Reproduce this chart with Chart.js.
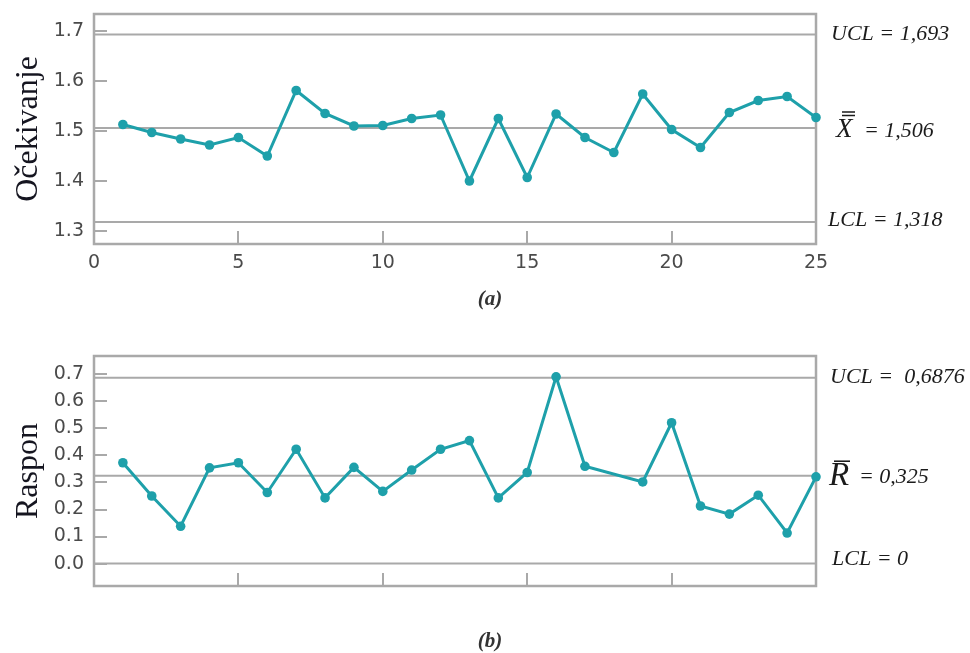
<!DOCTYPE html>
<html><head><meta charset="utf-8">
<script src="https://cdn.jsdelivr.net/npm/chart.js@4.4.1/dist/chart.umd.min.js"></script>
<style>
html,body{margin:0;padding:0;background:#fff;}
#wrap{position:relative;width:970px;height:653px;overflow:hidden;background:#fff;}
canvas{position:absolute;left:0;}
</style></head><body>
<div id="wrap">
<canvas id="c1" width="970" height="326" style="top:0;width:970px;height:326px"></canvas>
<canvas id="c2" width="970" height="327" style="top:326px;width:970px;height:327px"></canvas>
</div>
<script>
// ---- data ----
const samples = [1,2,3,4,5,6,7,8,9,10,11,12,13,14,15,16,17,18,19,20,21,22,23,24,25];
const meanValues = [1.513,1.497,1.484,1.472,1.487,1.450,1.581,1.535,1.510,1.511,1.525,1.532,1.400,1.525,1.407,1.534,1.487,1.457,1.574,1.503,1.467,1.537,1.561,1.569,1.527];
const rangeSamples = [1,2,3,4,5,6,7,8,9,10,11,12,13,14,15,16,17,19,20,21,22,23,24,25];
const rangeValues = [0.373,0.250,0.138,0.354,0.373,0.263,0.423,0.243,0.356,0.267,0.346,0.423,0.455,0.243,0.337,0.691,0.360,0.302,0.521,0.213,0.183,0.253,0.113,0.321];
const meanLimits = {ucl:1.693, cl:1.506, lcl:1.318};
const rangeLimits = {ucl:0.6876, cl:0.325, lcl:0};
const xTicks = [0,5,10,15,20,25];
const meanTicks = [1.3,1.4,1.5,1.6,1.7];
const rangeTicks = [0.0,0.1,0.2,0.3,0.4,0.5,0.6,0.7];
const labelsMean = {ucl:'UCL = 1,693', cl:'= 1,506', lcl:'LCL = 1,318'};
const labelsRange = {ucl:'UCL =  0,6876', cl:'= 0,325', lcl:'LCL = 0'};

const TEAL = '#1ea0aa';
const GRAY = '#a9a9a9';
const TICKCOL = '#4a4a4a';
const SERIF = "'Liberation Serif', 'DejaVu Serif', serif";

function limitLine(v){ return [{x:xTicks[0], y:v},{x:xTicks[xTicks.length-1], y:v}]; }

function framePlugin(){
  return {id:'frame', beforeDatasetsDraw(chart){
    const a = chart.chartArea, c = chart.ctx;
    c.save(); c.strokeStyle = GRAY; c.lineWidth = 2.5;
    c.strokeRect(a.left, a.top, a.right-a.left, a.bottom-a.top);
    c.restore();
  }};
}

function labelPlugin(kind){
  return {id:'rlabels', afterDraw(chart){
    const c = chart.ctx, ys = chart.scales.y;
    c.save(); c.fillStyle = '#1b1b1b'; c.strokeStyle = '#1b1b1b';
    c.textAlign = 'left';
    if (kind === 'mean'){
      const lim = meanLimits, L = labelsMean;
      c.font = 'italic 22px ' + SERIF; c.textBaseline = 'middle';
      c.fillText(L.ucl, 831, ys.getPixelForValue(lim.ucl));
      c.fillText(L.lcl, 828, ys.getPixelForValue(lim.lcl) - 2);
      const yc = ys.getPixelForValue(lim.cl);
      c.textBaseline = 'alphabetic';
      c.font = 'italic 27px ' + SERIF;
      c.fillText('X', 836, yc + 9);
      c.lineWidth = 1.6;
      c.beginPath(); c.moveTo(842, yc-16); c.lineTo(855, yc-16); c.moveTo(842, yc-12.5); c.lineTo(855, yc-12.5); c.stroke();
      c.font = 'italic 22px ' + SERIF;
      c.fillText(L.cl, 864, yc + 9);
      c.textAlign = 'center'; c.textBaseline = 'middle';
      c.font = 'bold italic 21px ' + SERIF; c.fillStyle = '#333';
      c.fillText('(a)', 490, 300);
    } else {
      const lim = rangeLimits, L = labelsRange;
      c.font = 'italic 22px ' + SERIF; c.textBaseline = 'middle';
      c.fillText(L.ucl, 830, ys.getPixelForValue(lim.ucl) - 1);
      c.fillText(L.lcl, 832, ys.getPixelForValue(lim.lcl) - 4);
      const yc = ys.getPixelForValue(lim.cl);
      c.textBaseline = 'alphabetic';
      c.font = 'italic 33px ' + SERIF;
      c.fillText('R', 829, yc + 9.5);
      c.lineWidth = 1.6;
      c.beginPath(); c.moveTo(834, yc-14.5); c.lineTo(850, yc-14.5); c.stroke();
      c.font = 'italic 22px ' + SERIF;
      c.fillText(L.cl, 859, yc + 7);
      c.textAlign = 'center'; c.textBaseline = 'middle';
      c.font = 'bold italic 21px ' + SERIF; c.fillStyle = '#333';
      c.fillText('(b)', 490, 315.7);
    }
    c.restore();
  }};
}

function makeChart(id, kind){
  const isMean = kind === 'mean';
  const xs = isMean ? samples : rangeSamples;
  const vs = isMean ? meanValues : rangeValues;
  const lim = isMean ? meanLimits : rangeLimits;
  const series = xs.map((x,i)=>({x:x, y:vs[i]}));
  const lineDs = v => ({data:limitLine(v), borderColor:GRAY, borderWidth:2, pointRadius:0, fill:false, clip:false});
  const zeroPad = s => { s.paddingTop = 0; s.paddingBottom = 0; s.paddingLeft = 0; s.paddingRight = 0; };
  return new Chart(document.getElementById(id), {
    type:'line',
    data:{datasets:[
      {data:series, borderColor:TEAL, backgroundColor:TEAL, borderWidth:3, pointRadius:4.8, pointBackgroundColor:TEAL, pointBorderWidth:0, tension:0, clip:false},
      lineDs(lim.ucl), lineDs(lim.cl), lineDs(lim.lcl)
    ]},
    options:{
      responsive:false, animation:false, devicePixelRatio:1,
      layout:{padding:{left:0, right:154, top:isMean?14:30, bottom:0}},
      plugins:{legend:{display:false}, tooltip:{enabled:false}},
      scales:{
        x:{type:'linear', min:0, max:25,
          afterBuildTicks(s){ s.ticks = xTicks.map(v=>({value:v})); },
          afterFit(s){ s.height = isMean ? 82 : 67; zeroPad(s); },
          grid:{drawOnChartArea:false, drawTicks:true, tickLength:-13, color:GRAY, lineWidth:2},
          border:{display:false},
          ticks:{display:isMean, padding:21, color:TICKCOL, font:{family:"'DejaVu Sans', sans-serif", size:19}, callback:v=>String(v)}
        },
        y:{type:'linear', min:isMean?1.274:-0.083, max:isMean?1.734:0.768,
          afterBuildTicks(s){ s.ticks = (isMean?meanTicks:rangeTicks).map(v=>({value:v})); },
          afterFit(s){ s.width = 94; zeroPad(s); },
          grid:{drawOnChartArea:false, drawTicks:true, tickLength:-13, color:GRAY, lineWidth:2},
          border:{display:false},
          ticks:{padding:23, color:TICKCOL, font:{family:"'DejaVu Sans', sans-serif", size:19}, callback:v=>Number(v).toFixed(1)},
          title:{display:true, text:isMean?'Očekivanje':'Raspon', color:'#151520', font:{family:SERIF, size:32, lineHeight:1.2}, padding:{top:9, bottom:0}}
        }
      }
    },
    plugins:[framePlugin(), labelPlugin(kind)]
  });
}
makeChart('c1','mean');
makeChart('c2','range');
</script>
</body></html>
